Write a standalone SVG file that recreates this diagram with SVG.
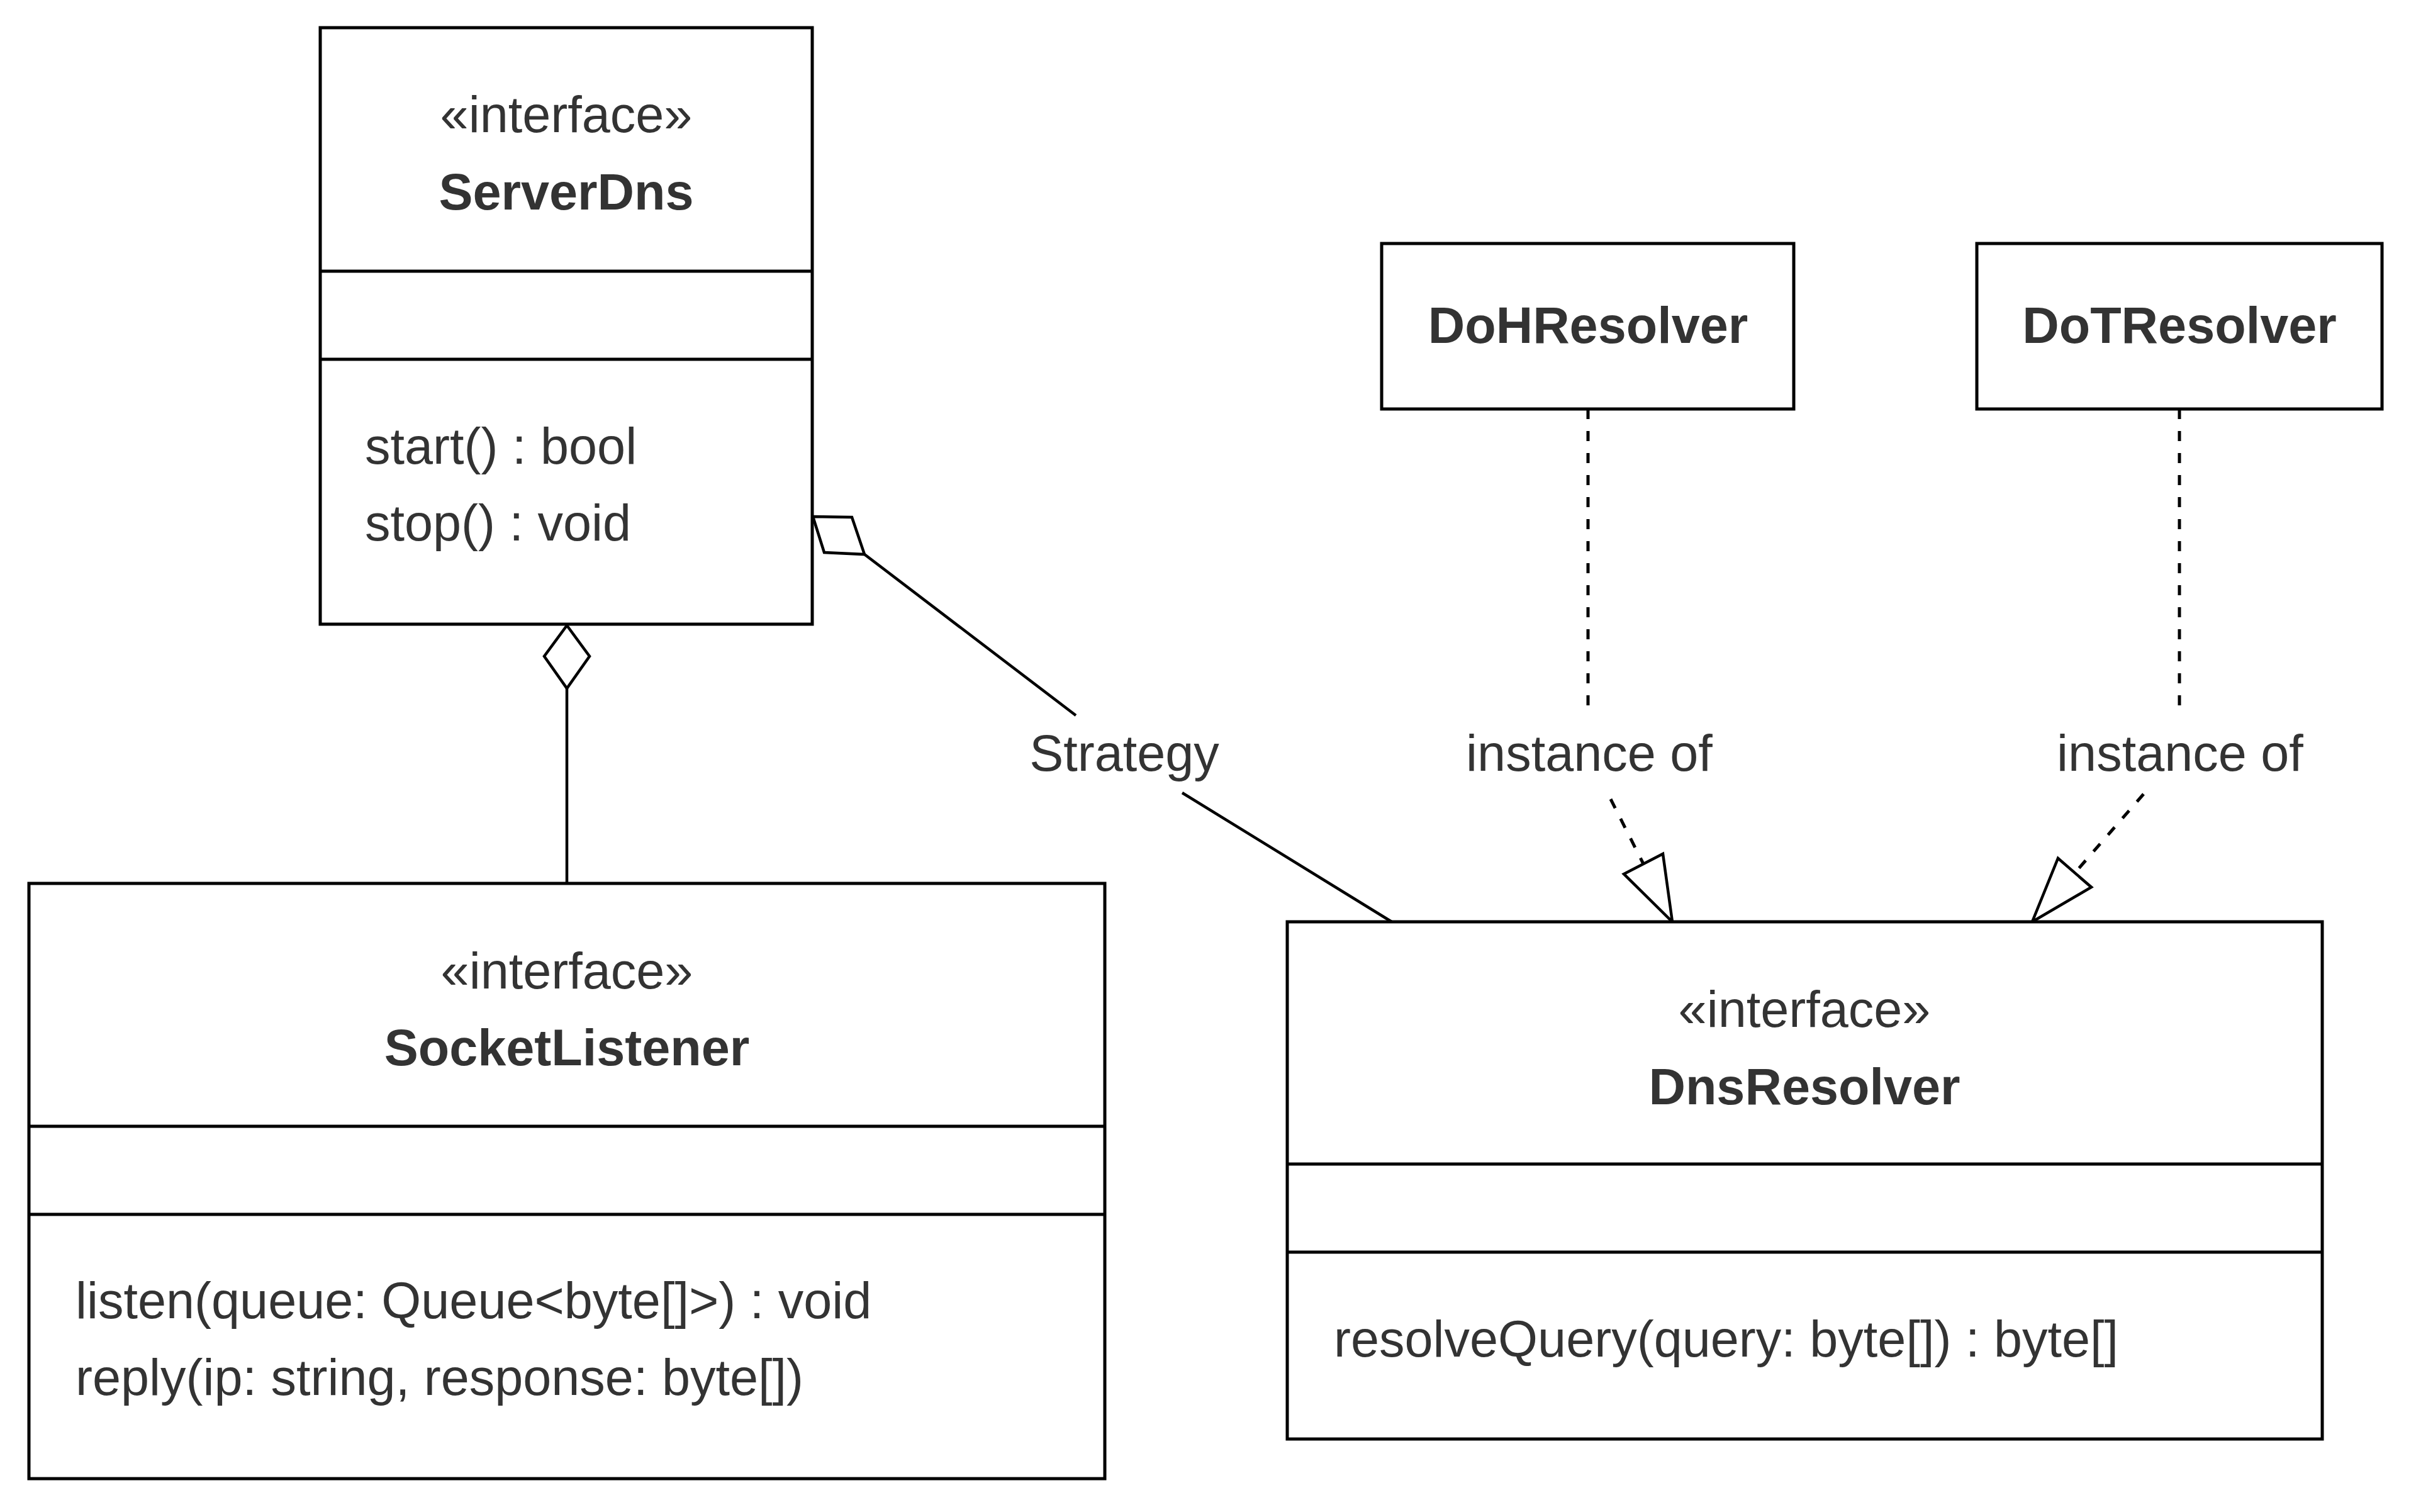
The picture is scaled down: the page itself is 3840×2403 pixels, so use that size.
<svg xmlns="http://www.w3.org/2000/svg" width="3840" height="2403" viewBox="0 0 3840 2403">
<style>
.box{fill:#fff;stroke:#000;stroke-width:5}
.div{stroke:#000;stroke-width:5}
.t{font-family:"Liberation Sans",Arial,sans-serif;font-size:81px;fill:#333}
.c{text-anchor:middle}
.b{font-weight:bold}
.ln{fill:none;stroke:#000;stroke-width:4.5}
.dash{fill:none;stroke:#000;stroke-width:5;stroke-dasharray:16 19}
.head{fill:#fff;stroke:#000;stroke-width:4.5;stroke-linejoin:miter}
</style>
<rect width="3840" height="2403" fill="#fff"/>
<g id="connectors">
  <line class="ln" x1="901" y1="1094" x2="901" y2="1404"/>
  <polygon class="head" points="901,994 937,1043 901,1094 865,1043"/>
  <line class="ln" x1="1374" y1="881" x2="1710" y2="1137"/>
  <line class="ln" x1="1879" y1="1260" x2="2212" y2="1465"/>
  <polygon class="head" points="1292,821 1354,822 1374,881 1310,878"/>
  <text class="t c" x="1787" y="1225">Strategy</text>
  <line class="dash" x1="2524" y1="650" x2="2524" y2="1122"/>
  <line class="dash" x1="2560" y1="1270" x2="2612" y2="1373"/>
  <polygon class="head" points="2658,1465 2643,1357 2581,1389"/>
  <text class="t c" x="2526" y="1225">instance of</text>
  <line class="dash" x1="3464" y1="650" x2="3464" y2="1122"/>
  <line class="dash" x1="3407" y1="1262" x2="3298" y2="1387"/>
  <polygon class="head" points="3230,1465 3271,1364 3324,1410"/>
  <text class="t c" x="3465" y="1225">instance of</text>
</g>
<g id="ServerDns">
  <rect class="box" x="509" y="44" width="782" height="948"/>
  <line class="div" x1="509" y1="431" x2="1291" y2="431"/>
  <line class="div" x1="509" y1="571" x2="1291" y2="571"/>
  <text class="t c" x="900" y="210">«interface»</text>
  <text class="t c b" x="900" y="333">ServerDns</text>
  <text class="t" x="580" y="737">start() : bool</text>
  <text class="t" x="580" y="859">stop() : void</text>
</g>
<g id="SocketListener">
  <rect class="box" x="46" y="1404" width="1710" height="946"/>
  <line class="div" x1="46" y1="1790" x2="1756" y2="1790"/>
  <line class="div" x1="46" y1="1930" x2="1756" y2="1930"/>
  <text class="t c" x="901" y="1571">«interface»</text>
  <text class="t c b" x="901" y="1693">SocketListener</text>
  <text class="t" x="120" y="2095">listen(queue: Queue&lt;byte[]&gt;) : void</text>
  <text class="t" x="120" y="2217">reply(ip: string, response: byte[])</text>
</g>
<g id="DnsResolver">
  <rect class="box" x="2046" y="1465" width="1645" height="822"/>
  <line class="div" x1="2046" y1="1850" x2="3691" y2="1850"/>
  <line class="div" x1="2046" y1="1990" x2="3691" y2="1990"/>
  <text class="t c" x="2868" y="1632">«interface»</text>
  <text class="t c b" x="2868" y="1755">DnsResolver</text>
  <text class="t" x="2120" y="2156">resolveQuery(query: byte[]) : byte[]</text>
</g>
<g id="DoHResolver">
  <rect class="box" x="2196" y="387" width="655" height="263"/>
  <text class="t c b" x="2524" y="545">DoHResolver</text>
</g>
<g id="DoTResolver">
  <rect class="box" x="3142" y="387" width="644" height="263"/>
  <text class="t c b" x="3464" y="545">DoTResolver</text>
</g>
</svg>
